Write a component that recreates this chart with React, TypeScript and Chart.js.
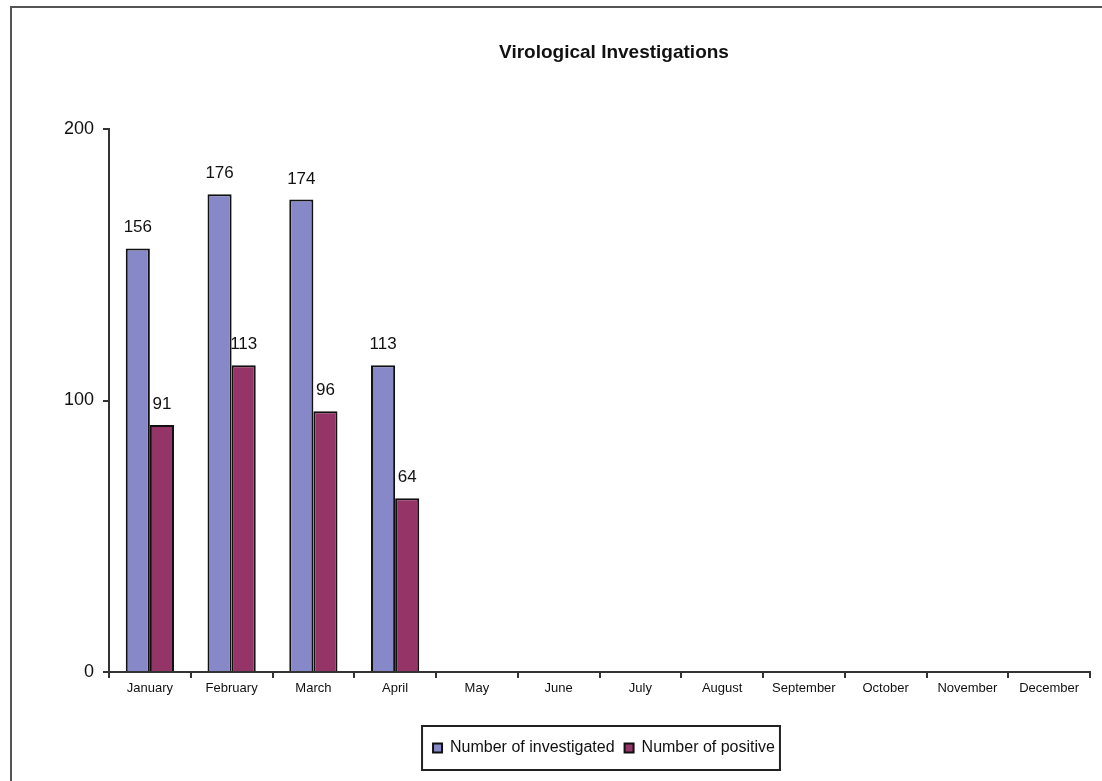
import React, { useEffect, useRef } from "react";
import { Chart, registerables } from "chart.js";

Chart.register(...registerables);

const months = [
  "January", "February", "March", "April", "May", "June",
  "July", "August", "September", "October", "November", "December",
];
const investigated: (number | null)[] = [156, 176, 174, 113, null, null, null, null, null, null, null, null];
const positive: (number | null)[] = [91, 113, 96, 64, null, null, null, null, null, null, null, null];
const yTicks = [0, 100, 200];
const titleText = "Virological Investigations";
const seriesNames = ["Number of investigated", "Number of positive"];

const FONT = "'Liberation Sans', Arial, Helvetica, sans-serif";

const titlePlugin = {
  id: "customTitle",
  afterDraw(chart: any) {
    const ctx = chart.ctx;
    ctx.save();
    ctx.font = `bold 19px ${FONT}`;
    ctx.fillStyle = "#111";
    ctx.textAlign = "center";
    ctx.textBaseline = "middle";
    ctx.fillText(titleText, 614, 53);
    ctx.restore();
  },
};

const valueLabels = {
  id: "valueLabels",
  afterDatasetsDraw(chart: any) {
    const ctx = chart.ctx;
    ctx.save();
    ctx.font = `17px ${FONT}`;
    ctx.fillStyle = "#111";
    ctx.textAlign = "center";
    ctx.textBaseline = "alphabetic";
    chart.data.datasets.forEach((ds: any, i: number) => {
      const meta = chart.getDatasetMeta(i);
      meta.data.forEach((el: any, j: number) => {
        const v = ds.data[j];
        if (v === null || v === undefined) return;
        ctx.fillText(String(v), el.x, el.y - 16);
      });
    });
    ctx.restore();
  },
};

const LEGEND_SHIFT = 59;
const legendFrame = {
  id: "legendFrame",
  afterLayout(chart: any) {
    const lg = chart.legend;
    if (lg) {
      lg.left += LEGEND_SHIFT;
      lg.right += LEGEND_SHIFT;
    }
  },
  afterDraw(chart: any) {
    const lg = chart.legend;
    if (!lg || !lg.lineWidths) return;
    const pad = 10;
    const lw = lg.lineWidths[0];
    const start = (lg.left + pad + lg.right - lw) / 2;
    const end = start + lw - pad;
    const cy = lg.top + pad + 8;
    const ctx = chart.ctx;
    ctx.save();
    ctx.strokeStyle = "#222";
    ctx.lineWidth = 2;
    ctx.strokeRect(start - 11, cy - 22, end - start + 16, 44);
    ctx.restore();
  },
};

export default function App() {
  const ref = useRef<HTMLCanvasElement>(null);

  useEffect(() => {
    document.body.style.margin = "0";
    const canvas = ref.current;
    if (!canvas) return;
    const chart = new Chart(canvas, {
      type: "bar",
      data: {
        labels: months,
        datasets: [
          {
            label: seriesNames[0],
            data: investigated,
            backgroundColor: "#8788c7",
            borderColor: "#111",
            borderWidth: 2,
            categoryPercentage: 0.59,
            barPercentage: 1.0,
          },
          {
            label: seriesNames[1],
            data: positive,
            backgroundColor: "#953567",
            borderColor: "#111",
            borderWidth: 2,
            categoryPercentage: 0.59,
            barPercentage: 1.0,
          },
        ],
      },
      options: {
        responsive: false,
        animation: false,
        layout: { padding: { left: 0, right: 12, top: 129, bottom: 15 } },
        plugins: {
          title: { display: false },
          tooltip: { enabled: false },
          legend: {
            display: true,
            position: "bottom",
            labels: {
              boxWidth: 9,
              boxHeight: 9,
              padding: 10,
              color: "#111",
              font: { family: FONT, size: 16 },
            },
          },
        },
        scales: {
          x: {
            afterFit: (s: any) => {
              s.height = 58;
            },
            grid: {
              display: true,
              drawOnChartArea: false,
              drawTicks: true,
              tickLength: 6,
              color: "#333",
              lineWidth: 2,
              offset: true,
            },
            border: { display: true, color: "#333", width: 2 },
            ticks: {
              color: "#111",
              font: { family: FONT, size: 13 },
              padding: 3,
              maxRotation: 0,
              autoSkip: false,
            },
          },
          y: {
            min: 0,
            max: 200,
            afterFit: (s: any) => {
              s.width = 109;
            },
            afterBuildTicks: (s: any) => {
              s.ticks = yTicks.map((v) => ({ value: v }));
            },
            grid: {
              display: true,
              drawOnChartArea: false,
              drawTicks: true,
              tickLength: 6,
              color: "#333",
              lineWidth: 2,
            },
            border: { display: true, color: "#333", width: 2 },
            ticks: {
              color: "#111",
              font: { family: FONT, size: 18 },
              padding: 9,
            },
          },
        },
      },
      plugins: [titlePlugin, valueLabels, legendFrame],
    });
    return () => chart.destroy();
  }, []);

  return (
    <div style={{ position: "relative", width: 1102, height: 781, overflow: "hidden", background: "#fff" }}>
      <canvas ref={ref} width={1102} height={781} style={{ position: "absolute", left: 0, top: 0 }} />
      <div
        style={{
          position: "absolute",
          left: 10,
          top: 6,
          width: 1300,
          height: 1000,
          border: "2px solid #555",
          pointerEvents: "none",
        }}
      />
    </div>
  );
}
